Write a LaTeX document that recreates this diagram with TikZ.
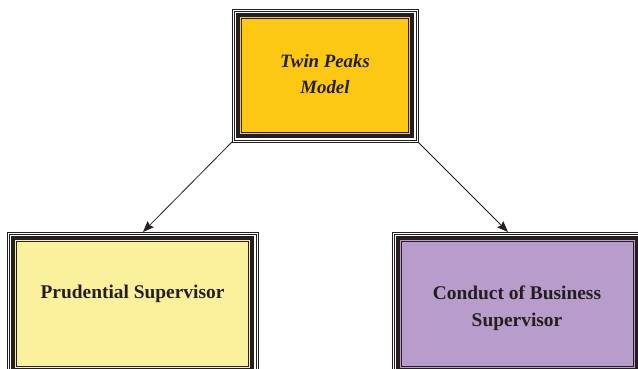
\documentclass[tikz,border=0pt]{standalone}
\usepackage{fontspec}
\setmainfont{Liberation Serif}
\usetikzlibrary{arrows.meta,calc}
\definecolor{ink}{HTML}{231F20}
\definecolor{gold}{HTML}{FDC813}
\definecolor{paleyel}{HTML}{FBF09B}
\definecolor{lav}{HTML}{B89CCB}
\tikzset{
  tpbox/.style={draw=ink, line width=0.9pt, fill=white, inner sep=0pt, outer sep=0pt,
    path picture={
      \coordinate (nw) at (path picture bounding box.north west);
      \coordinate (se) at (path picture bounding box.south east);
      \fill[#1] ($(nw)+(3.6,3.6)$) rectangle ($(se)+(-3.6,-3.6)$);
      \draw[ink, line width=0.9pt] ($(nw)+(2,2)$) rectangle ($(se)+(-2,-2)$);
      \draw[ink, line width=4.4pt] ($(nw)+(5.9,5.9)$) rectangle ($(se)+(-5.9,-5.9)$);
      \draw[ink, line width=1pt] ($(nw)+(9.6,9.6)$) rectangle ($(se)+(-9.6,-9.6)$);
    }},
  lbl/.style={text=ink, align=center, font=\bfseries\fontsize{19.4}{27}\selectfont},
  conn/.style={ink, line width=0.8pt, -{Stealth[length=11pt,width=8.5pt,inset=1.5pt]}}
}
\begin{document}
\begin{tikzpicture}[x=1pt,y=-1pt]
\useasboundingbox (0,0) rectangle (638,368);
\clip (0,0) rectangle (638,368);
\node[tpbox=gold, minimum width=186pt, minimum height=133pt] (T) at (325,75.5) {};
\node[tpbox=paleyel, minimum width=251pt, minimum height=144pt] (L) at (132.5,304) {};
\node[tpbox=lav, minimum width=251pt, minimum height=144pt] (R) at (517.5,304) {};
\node[lbl, font=\bfseries\itshape\fontsize{18.8}{26}\selectfont] (Tt) at (325,74) {Twin Peaks\\Model};
\node[lbl] (Lt) at (132.5,294) {Prudential Supervisor};
\node[lbl] (Rt) at (517,308) {Conduct of Business\\Supervisor};
\draw[conn] (T.south west) -- ($(L.north west)+(136,0)$);
\draw[conn] (T.south east) -- ($(R.north west)+(116,0)$);
\end{tikzpicture}
\end{document}
